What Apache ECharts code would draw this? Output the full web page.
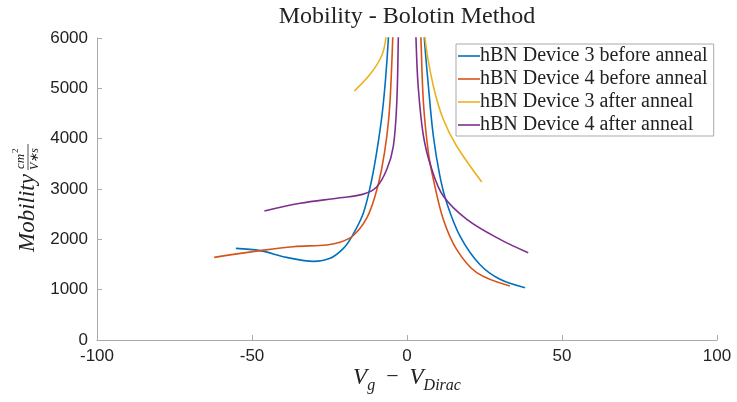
<!DOCTYPE html>
<html><head><meta charset="utf-8">
<script src="https://cdn.jsdelivr.net/npm/echarts@6/dist/echarts.min.js"></script>
<style>html,body{margin:0;padding:0;background:#fff}#c{width:737px;height:402px}</style>
</head><body><div id="c"></div>
<script>
const titleText = 'Mobility - Bolotin Method';
const seriesNames = ['hBN Device 3 before anneal','hBN Device 4 before anneal','hBN Device 3 after anneal','hBN Device 4 after anneal'];
const xTicks = [-100,-50,0,50,100];
const yTicks = [0,1000,2000,3000,4000,5000,6000];
// V_g - V_Dirac values (null = gap between the two branches)
const dev3BeforeX = [-55.2,-47.4,-38.8,-30.2,-24.8,-20.5,-17.8,-14.1,-11.4,-9.6,-8.0,-6.9,-6.0,-5.5,null,5.2,5.6,6.9,8.5,10.6,12.8,17.1,23.5,30.0,38.1];
const dev3BeforeY = [1821,1775,1642,1563,1623,1821,2053,2517,3179,3800,4500,5200,6000,6700,null,6700,6000,5047,4053,3259,2728,2066,1500,1206,1040];
const dev4BeforeX = [-62.2,-47.4,-36.7,-25.9,-21.6,-17.3,-13.0,-10.3,-8.2,-6.5,-5.5,-4.6,-4.3,null,4.2,4.5,5.3,6.9,8.5,11.7,16.0,22.5,33.2];
const dev4BeforeY = [1642,1775,1854,1888,1940,2076,2420,2861,3391,4053,4715,6000,6700,null,6700,6000,4715,3722,3192,2398,1801,1338,1073];
const dev3AfterX = [-17.0,-11.9,-8.2,-6.8,-6.4,null,5.5,5.8,8.5,11.7,16.0,24.1];
const dev3AfterY = [4947,5279,5643,6000,6500,null,6500,6000,5047,4385,3854,3139];
const dev4AfterX = [-46.0,-34.5,-21.6,-14.1,-9.8,-6.5,-4.4,-3.3,-2.8,-2.6,null,2.7,2.9,3.6,5.3,8.0,11.7,19.3,30.0,39.1];
const dev4AfterY = [2563,2716,2825,2898,3040,3391,3854,4715,6000,6700,null,6700,6000,5047,4053,3391,2861,2398,2000,1735];
const colors = ['#0072BD','#D95319','#EDB120','#7E2F8E'];

function pairs(xs, ys){ return xs.map((x,i)=> x===null ? ['-','-'] : [x, ys[i]]); }
const allData = [pairs(dev3BeforeX,dev3BeforeY),pairs(dev4BeforeX,dev4BeforeY),pairs(dev3AfterX,dev3AfterY),pairs(dev4AfterX,dev4AfterY)];

const chart = echarts.init(document.getElementById('c'), null, {renderer:'canvas'});
const serif = "'Liberation Serif', 'DejaVu Serif', serif";
const sans = "'Liberation Sans', Arial, sans-serif";
chart.setOption({
  animation:false,
  backgroundColor:'#fff',
  legend:{
    orient:'vertical',left:456,top:44,
    data:seriesNames,icon:'rect',
    itemWidth:22,itemHeight:1.6,itemGap:3,
    padding:[2,6,1,2],
    borderColor:'#aaa',borderWidth:1,backgroundColor:'#fff',
    textStyle:{fontFamily:serif,fontSize:20,lineHeight:20,color:'#222',padding:[0,0,0,-5]}
  },
  grid:{left:97,right:20,top:38,bottom:62,containLabel:false},
  xAxis:{type:'value',min:-100,max:100,interval:50,
    axisLine:{show:true,onZero:false,lineStyle:{color:'#aaa',width:1}},
    axisTick:{show:true,inside:true,length:5,lineStyle:{color:'#aaa'}},
    splitLine:{show:false},
    axisLabel:{fontFamily:sans,fontSize:17,color:'#222',margin:8,formatter:v=>xTicks.includes(v)?String(v):''}
  },
  yAxis:{type:'value',min:0,max:6000,interval:1000,
    axisLine:{show:true,onZero:false,lineStyle:{color:'#aaa',width:1}},
    axisTick:{show:true,inside:true,length:5,lineStyle:{color:'#aaa'}},
    splitLine:{show:false},
    axisLabel:{fontFamily:sans,fontSize:17,color:'#222',margin:9,formatter:v=>yTicks.includes(v)?String(v):''}
  },
  graphic:[
    {type:'text',x:407,y:17,style:{text:titleText,font:"24px 'Liberation Serif', serif",fill:'#222',align:'center',verticalAlign:'middle'}},
    {type:'group',x:28,y:190,rotation:Math.PI/2,children:[
      {type:'text',x:-62,y:0,style:{text:'Mobility',font:"italic 23px 'Liberation Serif', serif",fill:'#222',verticalAlign:'middle',align:'left'}},
      {type:'text',x:21,y:-7,style:{text:'cm',font:"italic 13px 'Liberation Serif', serif",fill:'#222',verticalAlign:'middle',align:'left'}},
      {type:'text',x:37,y:-12,style:{text:'2',font:"9px 'Liberation Serif', serif",fill:'#222',verticalAlign:'middle',align:'left'}},
      {type:'line',shape:{x1:20,y1:0,x2:46,y2:0},style:{stroke:'#222',lineWidth:0.8}},
      {type:'text',x:20,y:7,style:{text:'V∗s',font:"italic 12px 'Liberation Serif', serif",fill:'#222',verticalAlign:'middle',align:'left'}}
    ]},
    {type:'text',x:407,y:380,style:{
      text:'{v|V}{s|g}{n|  −  }{v|V}{s|Dirac}',align:'center',verticalAlign:'middle',
      rich:{v:{font:"italic 23px 'Liberation Serif', serif",fill:'#222',verticalAlign:'top',lineHeight:27},
            s:{font:"italic 16px 'Liberation Serif', serif",fill:'#222',verticalAlign:'bottom',lineHeight:27},
            n:{font:"22px 'Liberation Serif', serif",fill:'#222',verticalAlign:'top',lineHeight:27}}
    }}
  ],
  series: seriesNames.map((n,i)=>({
    name:n,type:'line',data:allData[i],showSymbol:false,symbol:'none',smooth:0.35,
    connectNulls:false,clip:true,lineStyle:{color:colors[i],width:1.6},itemStyle:{color:colors[i]}
  }))
});
</script></body></html>
